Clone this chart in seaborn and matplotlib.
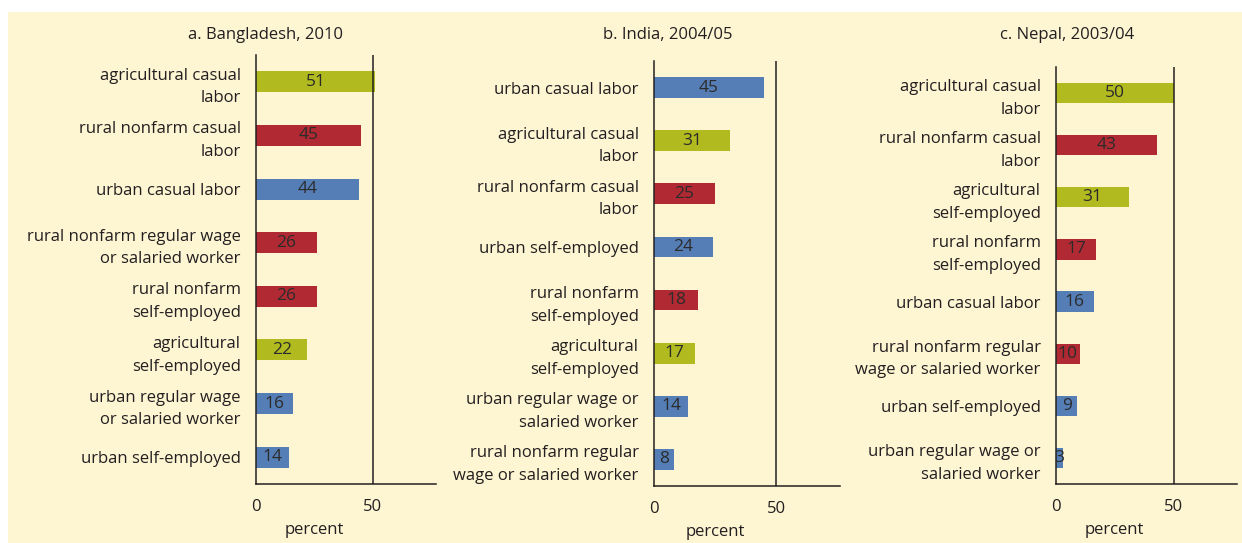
import matplotlib
matplotlib.use("Agg")
import matplotlib.pyplot as plt
import matplotlib.patches as mpatches
import seaborn as sns
import pandas as pd

# --- data -------------------------------------------------------------
bgd_labels = ["agricultural casual\nlabor", "rural nonfarm casual\nlabor", "urban casual labor",
              "rural nonfarm regular wage\nor salaried worker", "rural nonfarm\nself-employed",
              "agricultural\nself-employed", "urban regular wage\nor salaried worker",
              "urban self-employed"]
bgd_values = [51, 45, 44, 26, 26, 22, 16, 14]
bgd_kind = ["agri", "rural", "urban", "rural", "rural", "agri", "urban", "urban"]

ind_labels = ["urban casual labor", "agricultural casual\nlabor", "rural nonfarm casual\nlabor",
              "urban self-employed", "rural nonfarm\nself-employed", "agricultural\nself-employed",
              "urban regular wage or\nsalaried worker", "rural nonfarm regular\nwage or salaried worker"]
ind_values = [45, 31, 25, 24, 18, 17, 14, 8]
ind_kind = ["urban", "agri", "rural", "urban", "rural", "agri", "urban", "urban"]

npl_labels = ["agricultural casual\nlabor", "rural nonfarm casual\nlabor", "agricultural\nself-employed",
              "rural nonfarm\nself-employed", "urban casual labor",
              "rural nonfarm regular\nwage or salaried worker", "urban self-employed",
              "urban regular wage or\nsalaried worker"]
npl_values = [50, 43, 31, 17, 16, 10, 9, 3]
npl_kind = ["agri", "rural", "agri", "rural", "urban", "rural", "urban", "urban"]

titles = ["a. Bangladesh, 2010", "b. India, 2004/05", "c. Nepal, 2003/04"]
palette = {"agri": "#B1BA1E", "rural": "#B12A33", "urban": "#557EB6"}

sns.set_style("white")
plt.rcParams["font.family"] = ["Open Sans", "DejaVu Sans"]
ink = "#231F20"
fs = 12

fig = plt.figure(figsize=(12.42, 5.43), dpi=100, facecolor="white")
fig.patches.append(mpatches.Rectangle((8 / 1242, 0), 1, 1 - 12 / 543, transform=fig.transFigure,
                                      facecolor="#FEF5D3", edgecolor="none", zorder=-10))

# axes boxes in pixels: left, top, right, bottom
boxes = [(256, 55, 436, 484), (654, 61, 840, 486), (1056, 67, 1237, 484)]
xmaxes = [77, 76.2, 77]
title_x = [266, 668, 1067]

panels = [(bgd_labels, bgd_values, bgd_kind), (ind_labels, ind_values, ind_kind),
          (npl_labels, npl_values, npl_kind)]

for i, (labels, values, kind) in enumerate(panels):
    l, t, r, b = boxes[i]
    ax = fig.add_axes([l / 1242, 1 - b / 543, (r - l) / 1242, (b - t) / 543])
    ax.set_facecolor("none")
    df = pd.DataFrame({"label": labels, "value": values, "kind": kind})
    sns.barplot(data=df, x="value", y="label", hue="kind", palette=palette, dodge=False,
                width=0.39, legend=False, ax=ax, saturation=1, linewidth=0)
    for cont in ax.containers:
        ax.bar_label(cont, fmt="%g", label_type="center", color="#2B2B2B", fontsize=12.5)
    ax.set_xlim(0, xmaxes[i])
    ax.set_ylim(7.5, -0.5)
    ax.axvline(50, color=ink, lw=1.1)
    ax.set_xticks([0, 50])
    ax.tick_params(axis="x", length=0, pad=11, labelsize=fs, labelcolor=ink)
    ax.tick_params(axis="y", which="major", length=0, pad=11, labelsize=fs, labelcolor=ink)
    ax.set_yticks([k - 0.5 for k in range(9)], minor=True)
    ax.tick_params(axis="y", which="minor", length=7, width=1.1, color=ink)
    for lab in ax.get_yticklabels():
        lab.set_linespacing(1.55)
    ax.set_ylabel("")
    ax.set_xlabel("")
    ax.annotate("percent", xy=(25, 0), xycoords=("data", "axes fraction"),
                xytext=(0, -33), textcoords="offset points", ha="center", va="center",
                fontsize=fs, color=ink)
    for s in ["top", "right"]:
        ax.spines[s].set_visible(False)
    for s in ["left", "bottom"]:
        ax.spines[s].set_color(ink)
        ax.spines[s].set_linewidth(1.1)
    fig.text(title_x[i] / 1242, 1 - 35 / 543, titles[i], ha="center", va="center",
             fontsize=fs, color=ink)

fig.savefig("out.png", dpi=100, facecolor="white")
